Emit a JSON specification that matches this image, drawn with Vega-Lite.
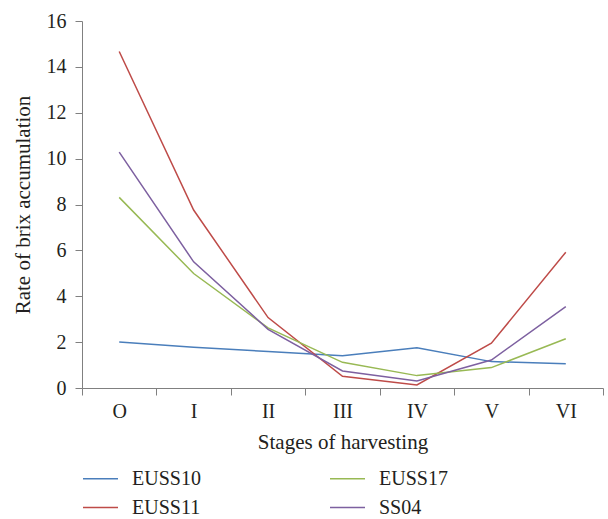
{
  "$schema": "https://vega.github.io/schema/vega-lite/v6.json",
  "autosize": "none",
  "width": 521,
  "height": 367,
  "padding": {"left": 82, "top": 21, "right": 5, "bottom": 131},
  "background": "white",
  "config": {
    "view": {"stroke": null},
    "font": "Liberation Serif",
    "axis": {"grid": false, "domainColor": "#808080", "tickColor": "#808080", "labelColor": "#231f20", "titleColor": "#231f20", "labelFont": "Liberation Serif", "titleFont": "Liberation Serif", "titleFontWeight": "normal", "labelFontSize": 20, "titleFontSize": 21, "tickSize": 7},
    "legend": {"labelFont": "Liberation Serif", "labelFontSize": 20, "labelColor": "#231f20"}
  },
  "data": {"values": [
    {"stage": "O", "variety": "EUSS10", "rate": 2.01},
    {"stage": "I", "variety": "EUSS10", "rate": 1.78},
    {"stage": "II", "variety": "EUSS10", "rate": 1.59},
    {"stage": "III", "variety": "EUSS10", "rate": 1.41},
    {"stage": "IV", "variety": "EUSS10", "rate": 1.75},
    {"stage": "V", "variety": "EUSS10", "rate": 1.15},
    {"stage": "VI", "variety": "EUSS10", "rate": 1.06},
    {"stage": "O", "variety": "EUSS11", "rate": 14.67},
    {"stage": "I", "variety": "EUSS11", "rate": 7.76},
    {"stage": "II", "variety": "EUSS11", "rate": 3.07},
    {"stage": "III", "variety": "EUSS11", "rate": 0.51},
    {"stage": "IV", "variety": "EUSS11", "rate": 0.13},
    {"stage": "V", "variety": "EUSS11", "rate": 1.95},
    {"stage": "VI", "variety": "EUSS11", "rate": 5.92},
    {"stage": "O", "variety": "EUSS17", "rate": 8.31},
    {"stage": "I", "variety": "EUSS17", "rate": 4.99},
    {"stage": "II", "variety": "EUSS17", "rate": 2.62},
    {"stage": "III", "variety": "EUSS17", "rate": 1.12},
    {"stage": "IV", "variety": "EUSS17", "rate": 0.54},
    {"stage": "V", "variety": "EUSS17", "rate": 0.89},
    {"stage": "VI", "variety": "EUSS17", "rate": 2.15},
    {"stage": "O", "variety": "SS04", "rate": 10.28},
    {"stage": "I", "variety": "SS04", "rate": 5.5},
    {"stage": "II", "variety": "SS04", "rate": 2.56},
    {"stage": "III", "variety": "SS04", "rate": 0.74},
    {"stage": "IV", "variety": "SS04", "rate": 0.31},
    {"stage": "V", "variety": "SS04", "rate": 1.22},
    {"stage": "VI", "variety": "SS04", "rate": 3.55}
  ]},
  "mark": {"type": "line", "strokeWidth": 1.5},
  "encoding": {
    "x": {
      "field": "stage", "type": "ordinal",
      "sort": ["O", "I", "II", "III", "IV", "V", "VI"],
      "scale": {"type": "band", "paddingInner": 0, "paddingOuter": 0},
      "axis": {"title": "Stages of harvesting", "labelAngle": 0, "tickBand": "extent", "labelPadding": 6, "titlePadding": 10}
    },
    "y": {
      "field": "rate", "type": "quantitative",
      "scale": {"domain": [0, 16], "nice": false},
      "axis": {"title": "Rate of brix accumulation", "values": [0, 2, 4, 6, 8, 10, 12, 14, 16], "labelPadding": 9, "titlePadding": 13}
    },
    "color": {
      "field": "variety", "type": "nominal",
      "scale": {"domain": ["EUSS10", "EUSS17", "EUSS11", "SS04"], "range": ["#4a7ebb", "#98b954", "#be4b48", "#7d60a0"]},
      "legend": {
        "title": null, "orient": "none", "legendX": 0, "legendY": 439,
        "direction": "horizontal", "columns": 2, "symbolType": "stroke", "symbolSize": 1225, "symbolStrokeWidth": 1.5,
        "labelFont": "Liberation Serif", "labelFontSize": 20, "labelColor": "#231f20", "labelOffset": 13,
        "columnPadding": 126, "rowPadding": 0
      }
    }
  }
}
